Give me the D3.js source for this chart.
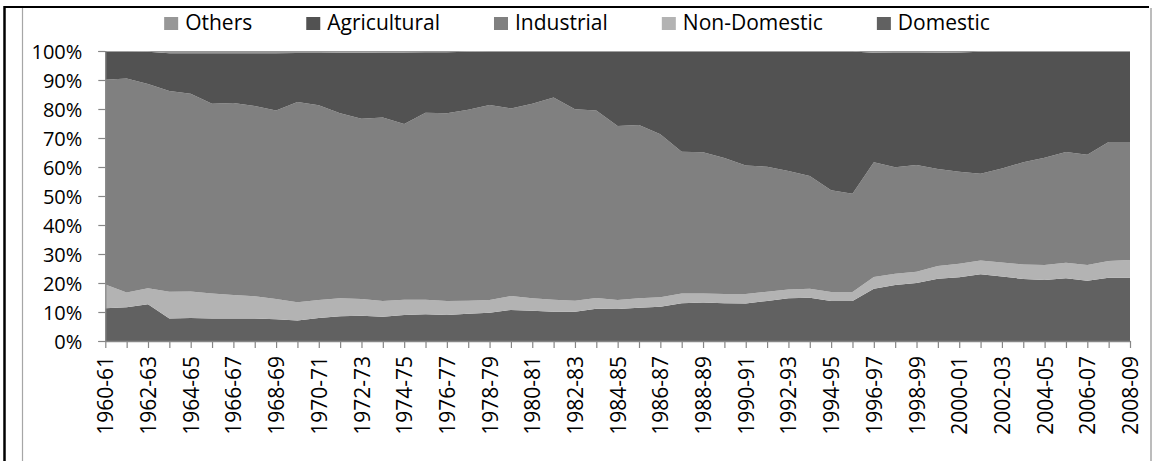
<!DOCTYPE html>
<html>
<head>
<meta charset="utf-8">
<script src="https://cdn.jsdelivr.net/npm/d3@7"></script>
<style>
  html, body { margin: 0; padding: 0; background: #fff; }
  svg { display: block; }
  text { font-family: "Open Sans", "Liberation Sans", sans-serif; }
</style>
</head>
<body>
<svg id="chart" width="1156" height="461"></svg>
<script>
// ---- Data (percent shares) ----
const categories = ["1960-61","1961-62","1962-63","1963-64","1964-65","1965-66","1966-67","1967-68","1968-69","1969-70",
  "1970-71","1971-72","1972-73","1973-74","1974-75","1975-76","1976-77","1977-78","1978-79","1979-80",
  "1980-81","1981-82","1982-83","1983-84","1984-85","1985-86","1986-87","1987-88","1988-89","1989-90",
  "1990-91","1991-92","1992-93","1993-94","1994-95","1995-96","1996-97","1997-98","1998-99","1999-00",
  "2000-01","2001-02","2002-03","2003-04","2004-05","2005-06","2006-07","2007-08","2008-09"];

const domestic = [11.3,11.6,12.7,7.8,7.9,7.8,7.8,7.8,7.5,7.1,7.9,8.5,8.7,8.4,9.0,9.2,9.0,9.4,9.7,10.7,
  10.4,10.1,10.1,11.1,11.0,11.5,11.8,13.0,13.3,13.0,12.9,13.8,14.7,14.9,13.8,13.8,18.0,19.3,20.0,21.5,
  22.0,23.0,22.2,21.4,21.0,21.6,20.8,21.8,21.8];

const nonDomestic = [8.2,5.1,5.5,9.2,9.2,8.6,8.1,7.6,7.0,6.3,6.2,6.2,5.8,5.4,5.2,5.0,4.8,4.5,4.4,4.8,
  4.3,4.1,3.8,3.7,3.1,3.2,3.3,3.4,3.1,3.2,3.3,3.2,3.1,3.1,3.1,3.1,4.1,3.9,3.9,4.4,
  4.6,4.8,4.9,5.0,5.2,5.4,5.4,5.8,6.1];

const industrial = [70.6,73.8,70.4,69.2,68.2,65.4,66.2,65.6,65.0,69.0,67.2,63.8,62.1,63.3,60.6,64.5,64.7,65.8,67.3,64.7,
  67.1,69.8,66.0,64.7,60.0,59.8,56.2,48.9,48.7,46.9,44.3,43.1,40.8,38.9,35.1,33.9,39.5,36.7,36.8,33.4,
  31.8,29.9,32.4,35.2,37.0,38.2,38.0,41.0,40.7];

const agricultural = [9.7,9.3,11.1,13.0,13.9,17.4,17.1,18.2,19.7,16.9,18.0,20.9,22.8,22.4,24.7,20.9,21.1,20.0,18.4,19.6,
  18.0,15.8,19.9,20.3,25.7,25.3,28.5,34.5,34.7,36.7,39.3,39.7,41.2,42.9,47.8,49.0,37.8,39.4,38.6,40.1,
  41.1,42.0,40.3,38.2,36.6,34.6,35.6,31.2,31.2];

const others = [0.2,0.2,0.3,0.8,0.8,0.8,0.8,0.8,0.8,0.7,0.7,0.6,0.6,0.5,0.5,0.4,0.4,0.3,0.2,0.2,
  0.2,0.2,0.2,0.2,0.2,0.2,0.2,0.2,0.2,0.2,0.2,0.2,0.2,0.2,0.2,0.2,0.6,0.7,0.7,0.6,
  0.5,0.3,0.2,0.2,0.2,0.2,0.2,0.2,0.2];

const seriesNames = ["Domestic","Non-Domestic","Industrial","Agricultural","Others"]; // stack order, bottom -> top
const legendOrder = ["Others","Agricultural","Industrial","Non-Domestic","Domestic"];
const yTicks = [0,0.1,0.2,0.3,0.4,0.5,0.6,0.7,0.8,0.9,1.0];

// ---- Build table ----
const seriesValues = {"Domestic": domestic, "Non-Domestic": nonDomestic, "Industrial": industrial,
  "Agricultural": agricultural, "Others": others};
const table = categories.map((c, i) => {
  const row = {cat: c};
  seriesNames.forEach(k => row[k] = seriesValues[k][i]);
  return row;
});

const colors = {"Others": "#979797", "Agricultural": "#525252", "Industrial": "#808080",
  "Non-Domestic": "#b3b3b3", "Domestic": "#616161"};

// ---- Layout ----
const svg = d3.select("#chart");
const plot = {left: 105.3, right: 1130, top: 51, bottom: 341};

// outer frame
svg.append("line").attr("x1", 4.5).attr("x2", 4.5).attr("y1", 6).attr("y2", 461)
  .attr("stroke", "#000").attr("stroke-width", 2.5);
svg.append("line").attr("x1", 4).attr("x2", 1149).attr("y1", 7).attr("y2", 7)
  .attr("stroke", "#000").attr("stroke-width", 2);
svg.append("line").attr("x1", 22.5).attr("x2", 22.5).attr("y1", 8).attr("y2", 461)
  .attr("stroke", "#a6a6a6").attr("stroke-width", 1.2);
svg.append("line").attr("x1", 1151).attr("x2", 1151).attr("y1", 8).attr("y2", 461)
  .attr("stroke", "#a6a6a6").attr("stroke-width", 1.5);

const x = d3.scalePoint().domain(categories).range([plot.left, plot.right]);
const y = d3.scaleLinear().domain([0, 1]).range([plot.bottom, plot.top]);

const stack = d3.stack().keys(seriesNames).offset(d3.stackOffsetExpand);
const stacked = stack(table);

const area = d3.area()
  .x(d => x(d.data.cat))
  .y0(d => y(d[0]))
  .y1(d => y(d[1]));

svg.append("g").selectAll("path").data(stacked).join("path")
  .attr("d", area)
  .attr("fill", d => colors[d.key])
  .attr("stroke", "none");

// ---- Y axis ----
const yAxis = svg.append("g").attr("transform", `translate(${plot.left},0)`)
  .call(d3.axisLeft(y).tickValues(yTicks).tickFormat(d3.format(".0%")).tickSize(7).tickPadding(16));
yAxis.select(".domain").attr("stroke", "#868686").attr("stroke-width", 1.2);
yAxis.selectAll(".tick line").attr("stroke", "#868686").attr("stroke-width", 1.2);
yAxis.selectAll(".tick text")
  .attr("fill", "#000")
  .style("font-size", "20px")
  .attr("dy", "0.35em");

// ---- X axis ----
const xAxis = svg.append("g").attr("transform", `translate(0,${plot.bottom})`)
  .call(d3.axisBottom(x).tickSize(7).tickSizeOuter(0)
    .tickFormat((d, i) => i % 2 === 0 ? d : ""));
xAxis.select(".domain").attr("stroke", "#868686").attr("stroke-width", 1.5);
xAxis.selectAll(".tick line").attr("stroke", "#868686").attr("stroke-width", 1.2);
xAxis.selectAll(".tick text")
  .attr("fill", "#000")
  .style("font-size", "21px")
  .attr("transform", "rotate(-90)")
  .attr("x", -15)
  .attr("y", 0)
  .attr("dy", "0.36em")
  .style("text-anchor", "end");

// ---- Legend ----
const legend = svg.append("g");
let cursor = 0;
legendOrder.forEach(name => {
  const g = legend.append("g").attr("transform", `translate(${cursor},0)`);
  g.append("rect").attr("x", 0).attr("y", 17).attr("width", 14).attr("height", 13)
    .attr("fill", colors[name]);
  const t = g.append("text").attr("x", 21).attr("y", 29.5)
    .attr("fill", "#000").style("font-size", "21px").text(name);
  const w = t.node().getComputedTextLength();
  cursor += 21 + w + 54;
});
const legendWidth = cursor - 54;
legend.attr("transform", `translate(${577 - legendWidth / 2},0)`);
</script>
</body>
</html>
